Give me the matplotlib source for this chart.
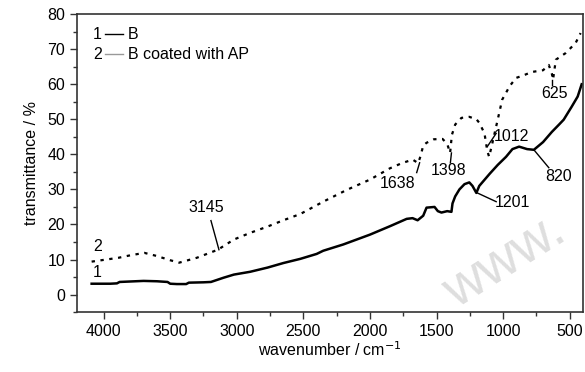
import numpy as np
import matplotlib
matplotlib.use('Agg')
import matplotlib.pyplot as plt
from matplotlib.ticker import MultipleLocator

plt.rcParams['font.family'] = ['Liberation Sans', 'DejaVu Sans']

# curve 1: B
wn_b = [4090, 3950, 3900, 3880, 3700, 3600, 3520, 3500, 3450, 3380, 3360, 3250, 3194,
        3100, 3022, 2900, 2769, 2650, 2522, 2400, 2351, 2200, 2000, 1850, 1724,
        1680, 1642, 1600, 1575, 1515, 1490, 1463, 1420, 1388, 1380, 1360, 1328,
        1290, 1254, 1230, 1201, 1179, 1100, 1040, 978, 930, 880, 820, 769, 700,
        634, 580, 545, 485, 440, 410]
tr_b = [3.1, 3.1, 3.2, 3.6, 3.9, 3.8, 3.6, 3.1, 3.0, 3.0, 3.4, 3.5, 3.6,
        4.8, 5.7, 6.5, 7.7, 9.0, 10.2, 11.6, 12.5, 14.3, 17.1, 19.5, 21.6,
        21.8, 21.2, 22.5, 24.8, 25.0, 23.8, 23.4, 23.8, 23.6, 26.0, 28.0, 30.0,
        31.5, 32.0, 31.0, 29.0, 31.0, 34.5, 37.0, 39.3, 41.5, 42.2, 41.5, 41.3, 43.5,
        46.4, 48.5, 49.9, 53.6, 56.5, 60.0]

# curve 2: B coated with AP
wn_ap = [4090, 3888, 3800, 3694, 3600, 3500, 3433, 3300, 3142, 3022, 2900, 2769,
         2650, 2522, 2351, 2172, 2000, 1851, 1760, 1679, 1638, 1620, 1600, 1575,
         1520, 1455, 1420, 1398, 1385, 1360, 1313, 1254, 1200, 1179, 1140, 1119,
         1105, 1082, 1040, 1007, 950, 903, 850, 784, 700, 657, 634, 625, 604,
         530, 455, 418]
tr_ap = [9.4, 10.5, 11.2, 11.9, 11.0, 9.8, 9.1, 10.5, 12.8, 15.7, 17.6, 19.4,
         21.2, 23.0, 26.5, 29.9, 32.8, 36.0, 37.5, 38.5, 37.5, 39.5, 42.5, 43.3,
         44.3, 44.4, 43.0, 40.4, 45.5, 48.5, 50.4, 50.7, 50.0, 49.0, 46.0, 41.0,
         39.3, 43.0, 50.0, 55.6, 59.5, 61.8, 62.5, 63.5, 64.0, 65.5, 63.0, 61.3, 67.0,
         68.9, 71.8, 74.6]

# peak labels: text, line start (wn, %), line end (wn, %), text centre (wn, %)
peaks = [('3145', (3134, 12.8), (3194, 21.1), (3231, 24.8)),
         ('1638', (1627, 37.6), (1649, 34.8), (1791, 31.6)),
         ('1398', (1388, 40.4), (1396, 37.6), (1410, 35.3)),
         ('1012', (1119, 42.2), (1052, 46.0), (940, 45.0)),
         ('625', (634, 61.3), (634, 59.8), (612, 57.5)),
         ('820', (769, 41.3), (657, 36.2), (582, 33.6)),
         ('1201', (1194, 29.0), (1052, 26.5), (933, 26.2))]

fig = plt.figure(figsize=(5.85, 3.72), dpi=100)
ax = fig.add_axes([0.1316, 0.161, 0.865, 0.801])

# watermark
ax.text(0.845, 0.17, 'www.', transform=ax.transAxes, fontsize=40, color='#dedede',
        rotation=32, ha='center', va='center', zorder=0)

ax.plot(wn_b, tr_b, color='black', lw=1.8)
ax.plot(wn_ap, tr_ap, color='black', lw=1.6, ls=(0, (1.5, 2.5)))

for lab, p0, p1, pt in peaks:
    ax.plot([p0[0], p1[0]], [p0[1], p1[1]], color='black', lw=1)
    ax.text(pt[0], pt[1], lab, fontsize=11.5, ha='center', va='center')

ax.set_xlim(4200, 400)
ax.set_ylim(-5, 80)
ax.xaxis.set_major_locator(MultipleLocator(500))
ax.xaxis.set_minor_locator(MultipleLocator(250))
ax.yaxis.set_major_locator(MultipleLocator(10))
ax.yaxis.set_minor_locator(MultipleLocator(5))
ax.tick_params(which='both', direction='out', labelsize=11.5, width=1, color='#333333')
ax.tick_params(which='major', length=5)
ax.tick_params(which='minor', length=3)
for s in ax.spines.values():
    s.set_color('#333333')
    s.set_linewidth(1.2)

ax.set_xlabel('wavenumber / cm$^{-1}$', fontsize=11.5, labelpad=1)
ax.set_ylabel('transmittance / %', fontsize=11.5, labelpad=6)

# curve numbers
ax.text(4080, 11.5, '2', fontsize=11.5, ha='left', va='bottom')
ax.text(4080, 4.2, '1', fontsize=11.5, ha='left', va='bottom')

# legend drawn by hand
leg_rows = [('1', 'B', 'black', 0.933), ('2', 'B coated with AP', '#999999', 0.866)]
for num, lab, col, yy in leg_rows:
    ax.text(0.032, yy, num, transform=ax.transAxes, fontsize=11.5, va='center')
    ax.plot([0.055, 0.091], [yy, yy], transform=ax.transAxes, color=col, lw=1)
    ax.text(0.101, yy, lab, transform=ax.transAxes, fontsize=11.5, va='center')

fig.savefig('out.png', dpi=100)
